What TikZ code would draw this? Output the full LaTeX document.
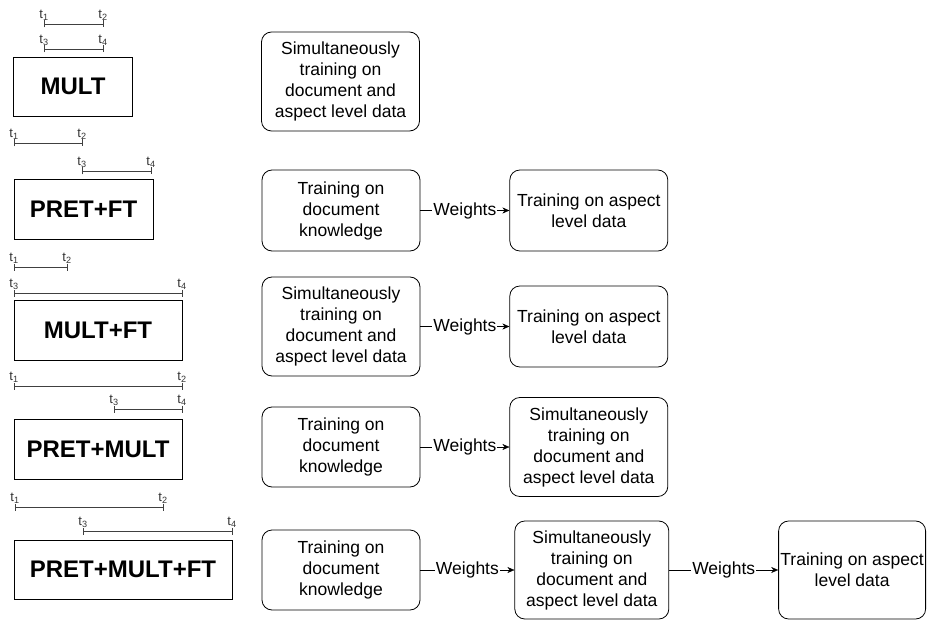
\documentclass[tikz,border=0pt]{standalone}
\usepackage{fontspec}
\setmainfont{Liberation Sans}
\usetikzlibrary{arrows.meta}
\usetikzlibrary{positioning}
\tikzset{>={Stealth[length=7pt,width=6pt]}}

\begin{document}
\begin{tikzpicture}[
        x=1pt, y=-1pt,
        label distance=3pt,
        font=\fontsize{17.5}{21}\selectfont,
        method/.style={draw,thick,inner sep=0pt,font=\fontsize{24}{28}\selectfont\bfseries},
        stage/.style={draw,thick,rounded corners=10pt,align=center,inner sep=0pt,minimum width=158pt,minimum height=81pt},
        tick/.style={coordinate,label={[tlabel]above:t\textsubscript{#1}}},
        tlabel/.style={inner sep=0pt,font=\fontsize{13}{15}\selectfont,black!80},
        bar/.style={{Bar[width=7pt]}-{Bar[width=7pt]},black!75},
        weights/.style={fill=white,inner sep=1pt}
    ]
    \useasboundingbox (0,0) rectangle (928,620);

    % MULT
    \coordinate[tick=1] (m1) at (44,24);
    \coordinate[tick=2] (m2) at (103,24);
    \coordinate[tick=3] (m3) at (44,49);
    \coordinate[tick=4] (m4) at (103,49);
    \draw[bar] (m1) -- (m2);
    \draw[bar] (m3) -- (m4);
    \node[method,minimum width=119pt,minimum height=59pt] (mult) at (73,86.5) {MULT};
    \node[stage,minimum height=99pt] (mult-a) at (340.5,81.5) {Simultaneously\\training on\\document and\\aspect level data};

    % PRET+FT
    \coordinate[tick=1] (p1) at (14,143);
    \coordinate[tick=2] (p2) at (82,143);
    \coordinate[tick=3] (p3) at (82,171);
    \coordinate[tick=4] (p4) at (151,171);
    \draw[bar] (p1) -- (p2);
    \draw[bar] (p3) -- (p4);
    \node[method,minimum width=139pt,minimum height=60pt] (pf) at (83.5,209) {PRET+FT};
    \node[stage] (pf-a) at (341,210.5) {Training on\\document\\knowledge};
    \node[stage,right=89pt of pf-a] (pf-b) {Training on aspect\\level data};
    \draw[->] (pf-a.east) -- node[weights] {Weights} (pf-b.west);

    % MULT+FT
    \coordinate[tick=1] (mf1) at (14,267);
    \coordinate[tick=2] (mf2) at (67,267);
    \coordinate[tick=3] (mf3) at (14,293);
    \coordinate[tick=4] (mf4) at (182,293);
    \draw[bar] (mf1) -- (mf2);
    \draw[bar] (mf3) -- (mf4);
    \node[method,minimum width=168pt,minimum height=60pt] (mf) at (98,330) {MULT+FT};
    \node[stage,minimum height=99pt] (mf-a) at (341,326.5) {Simultaneously\\training on\\document and\\aspect level data};
    \node[stage,right=89pt of mf-a] (mf-b) {Training on aspect\\level data};
    \draw[->] (mf-a.east) -- node[weights] {Weights} (mf-b.west);

    % PRET+MULT
    \coordinate[tick=1] (pm1) at (14,386);
    \coordinate[tick=2] (pm2) at (182,386);
    \coordinate[tick=3] (pm3) at (114,409);
    \coordinate[tick=4] (pm4) at (182,409);
    \draw[bar] (pm1) -- (pm2);
    \draw[bar] (pm3) -- (pm4);
    \node[method,minimum width=168pt,minimum height=60pt] (pm) at (98,449) {PRET+MULT};
    \node[stage,minimum height=80pt] (pm-a) at (341,447) {Training on\\document\\knowledge};
    \node[stage,minimum height=99pt,right=89pt of pm-a] (pm-b) {Simultaneously\\training on\\document and\\aspect level data};
    \draw[->] (pm-a.east) -- node[weights] {Weights} (pm-b.west);

    % PRET+MULT+FT
    \coordinate[tick=1] (pmf1) at (15,507);
    \coordinate[tick=2] (pmf2) at (163,507);
    \coordinate[tick=3] (pmf3) at (83,531);
    \coordinate[tick=4] (pmf4) at (232,531);
    \draw[bar] (pmf1) -- (pmf2);
    \draw[bar] (pmf3) -- (pmf4);
    \node[method,minimum width=218pt,minimum height=59pt] (pmf) at (123,569.5) {PRET+MULT+FT};
    \node[stage,minimum height=80pt] (pmf-a) at (341,570) {Training on\\document\\knowledge};
    \node[stage,minimum width=154pt,minimum height=98pt,right=94pt of pmf-a] (pmf-b) {Simultaneously\\training on\\document and\\aspect level data};
    \node[stage,minimum width=147pt,minimum height=98pt,right=109pt of pmf-b] (pmf-c) {Training on aspect\\level data};
    \draw[->] (pmf-a.east) -- node[weights] {Weights} (pmf-b.west);
    \draw[->] (pmf-b.east) -- node[weights] {Weights} (pmf-c.west);
\end{tikzpicture}
\end{document}
